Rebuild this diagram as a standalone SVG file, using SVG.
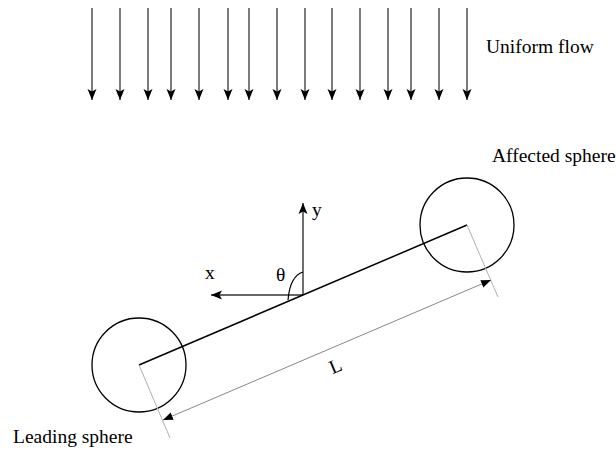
<svg xmlns="http://www.w3.org/2000/svg" width="616" height="451" viewBox="0 0 616 451">
<style>
.lbl{font-family:"Liberation Serif","Times New Roman",serif;font-size:19.5px;fill:#000}
.flow{stroke:#444;stroke-width:1.4;fill:none}
.axis{stroke:#333;stroke-width:1.4;fill:none}
.ext{stroke:#b0b0b0;stroke-width:1;fill:none}
.dim{stroke:#888;stroke-width:1;fill:none}
.sph{stroke:#000;stroke-width:1.3;fill:none}
</style>
<defs>
<marker id="ah" markerUnits="userSpaceOnUse" markerWidth="12" markerHeight="10" refX="11" refY="5" orient="auto-start-reverse" viewBox="0 0 12 10">
<path d="M0,0.5 L11,5 L0,9.5 L2.5,5 Z" fill="#000"/>
</marker>
<marker id="ahs" markerUnits="userSpaceOnUse" markerWidth="11" markerHeight="8" refX="10" refY="4" orient="auto-start-reverse" viewBox="0 0 11 8">
<path d="M0,0 L10,4 L0,8 Z" fill="#000"/>
</marker>
</defs>
<g id="flow">
<line class="flow" x1="92" y1="8" x2="92" y2="100" marker-end="url(#ah)"/>
<line class="flow" x1="120" y1="8" x2="120" y2="100" marker-end="url(#ah)"/>
<line class="flow" x1="148" y1="8" x2="148" y2="100" marker-end="url(#ah)"/>
<line class="flow" x1="171" y1="8" x2="171" y2="100" marker-end="url(#ah)"/>
<line class="flow" x1="199" y1="8" x2="199" y2="100" marker-end="url(#ah)"/>
<line class="flow" x1="228" y1="8" x2="228" y2="100" marker-end="url(#ah)"/>
<line class="flow" x1="249" y1="8" x2="249" y2="100" marker-end="url(#ah)"/>
<line class="flow" x1="277" y1="8" x2="277" y2="100" marker-end="url(#ah)"/>
<line class="flow" x1="305" y1="8" x2="305" y2="100" marker-end="url(#ah)"/>
<line class="flow" x1="332" y1="8" x2="332" y2="100" marker-end="url(#ah)"/>
<line class="flow" x1="360" y1="8" x2="360" y2="100" marker-end="url(#ah)"/>
<line class="flow" x1="388" y1="8" x2="388" y2="100" marker-end="url(#ah)"/>
<line class="flow" x1="411" y1="8" x2="411" y2="100" marker-end="url(#ah)"/>
<line class="flow" x1="439" y1="8" x2="439" y2="100" marker-end="url(#ah)"/>
<line class="flow" x1="467" y1="8" x2="467" y2="100" marker-end="url(#ah)"/>
<text class="lbl" x="486" y="53">Uniform flow</text>
</g>
<g id="leading-sphere">
<circle class="sph" cx="139" cy="365" r="47"/>
<text class="lbl" x="13" y="443">Leading sphere</text>
</g>
<g id="affected-sphere">
<circle class="sph" cx="467" cy="225" r="47"/>
<text class="lbl" x="492" y="162">Affected sphere</text>
</g>
<g id="axes">
<line class="axis" x1="303" y1="295" x2="303" y2="203" marker-end="url(#ah)"/>
<line class="axis" x1="303" y1="295" x2="211" y2="295" marker-end="url(#ah)"/>
<path d="M303,272 Q290,276 288,300" fill="none" stroke="#000" stroke-width="1.2"/>
<text class="lbl" x="312" y="216">y</text>
<text class="lbl" x="205" y="279">x</text>
<text class="lbl" x="276" y="281">θ</text>
</g>
<g id="connectors">
<line x1="139" y1="365" x2="467" y2="225" stroke="#000" stroke-width="1.5"/>
<line class="ext" x1="139" y1="365" x2="170" y2="438"/>
<line class="ext" x1="467" y1="225" x2="498" y2="297"/>
<line class="dim" x1="163" y1="420" x2="491" y2="280" marker-start="url(#ahs)" marker-end="url(#ahs)"/>
<text class="lbl" transform="translate(338,372) rotate(-23)" text-anchor="middle">L</text>
</g>
</svg>
